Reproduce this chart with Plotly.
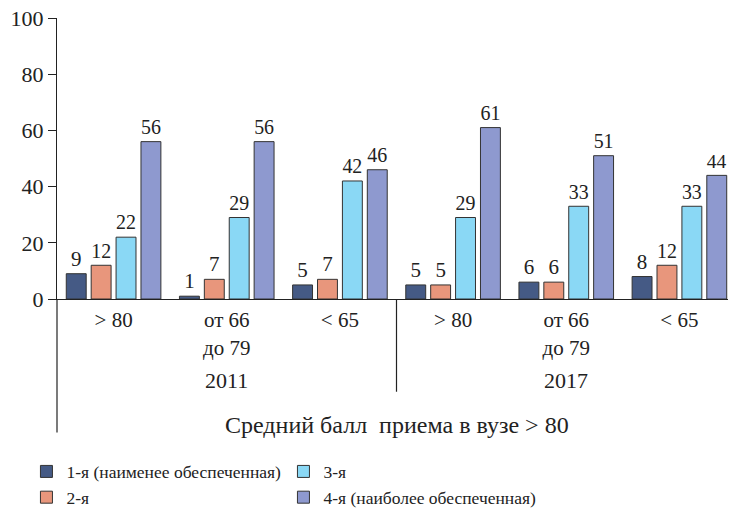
import plotly.graph_objects as go

# groups: score band within each year
groups = ["> 80", "от 66<br>до 79", "< 65", "> 80", "от 66<br>до 79", "< 65"]
years = ["2011", "2017"]

q1 = [9, 1, 5, 5, 6, 8]
q2 = [12, 7, 7, 5, 6, 12]
q3 = [22, 29, 42, 29, 33, 33]
q4 = [56, 56, 46, 61, 51, 44]

names = ["1-я (наименее обеспеченная)", "2-я", "3-я", "4-я (наиболее обеспеченная)"]
colors = ["#455a85", "#e8967c", "#8ad8f5", "#8e99cf"]
ranks = [1, 3, 2, 4]  # legend reads 1,3 / 2,4

FONT = "Liberation Serif"
INK = "#222222"
xs = list(range(len(groups)))

fig = go.Figure()
for vals, name, col, rk in zip([q1, q2, q3, q4], names, colors, ranks):
    fig.add_trace(go.Bar(
        x=xs, y=vals, name=name, legendrank=rk,
        marker=dict(color=col, line=dict(color="#333333", width=1)),
        text=vals, textposition="outside", cliponaxis=False,
        textfont=dict(family=FONT, size=21, color=INK),
    ))

# page body has an 8px margin, so the figure is sized/offset to compensate
fig.update_layout(
    width=728, height=503,
    margin=dict(l=49, r=0, t=10, b=212, autoexpand=False),
    paper_bgcolor="white", plot_bgcolor="white",
    barmode="group", bargap=0.12, bargroupgap=0.2,
    showlegend=True,
    legend=dict(orientation="h", x=-0.045, y=-0.55, xanchor="left", yanchor="top",
                entrywidth=212, entrywidthmode="pixels", tracegroupgap=0,
                font=dict(family=FONT, size=17.5, color=INK)),
)

fig.update_xaxes(
    range=[-0.5, 5.5], tickvals=xs, ticktext=groups,
    showline=True, linecolor=INK, linewidth=1.2,
    ticks="", ticklabelstandoff=2, ticklabeloverflow="allow",
    showgrid=False, zeroline=False,
    tickfont=dict(family=FONT, size=21, color=INK),
)
fig.update_yaxes(
    range=[0, 100], tickvals=[0, 20, 40, 60, 80, 100],
    showline=True, linecolor=INK, linewidth=1.2,
    ticks="outside", ticklen=8, tickcolor=INK, ticklabeloverflow="allow",
    showgrid=False, zeroline=False,
    tickfont=dict(family=FONT, size=22, color=INK),
)

# year labels under each half
for i, yr in enumerate(years):
    fig.add_annotation(x=1 + 3 * i, y=-0.29, xref="x", yref="paper", yanchor="middle",
                       text=yr, showarrow=False, font=dict(family=FONT, size=22, color=INK))

fig.add_annotation(x=0.5, y=-0.447, xref="paper", yref="paper", yanchor="middle",
                   text="Средний балл  приема в вузе > 80", showarrow=False,
                   font=dict(family=FONT, size=24, color=INK))

# left axis extension and year divider
fig.add_shape(type="line", xref="paper", yref="paper", x0=0, x1=0, y0=0, y1=-0.475,
              line=dict(color=INK, width=1.2))
fig.add_shape(type="line", xref="x", yref="paper", x0=2.5, x1=2.5, y0=0, y1=-0.33,
              line=dict(color=INK, width=1.2))

fig.write_html("out.html")
